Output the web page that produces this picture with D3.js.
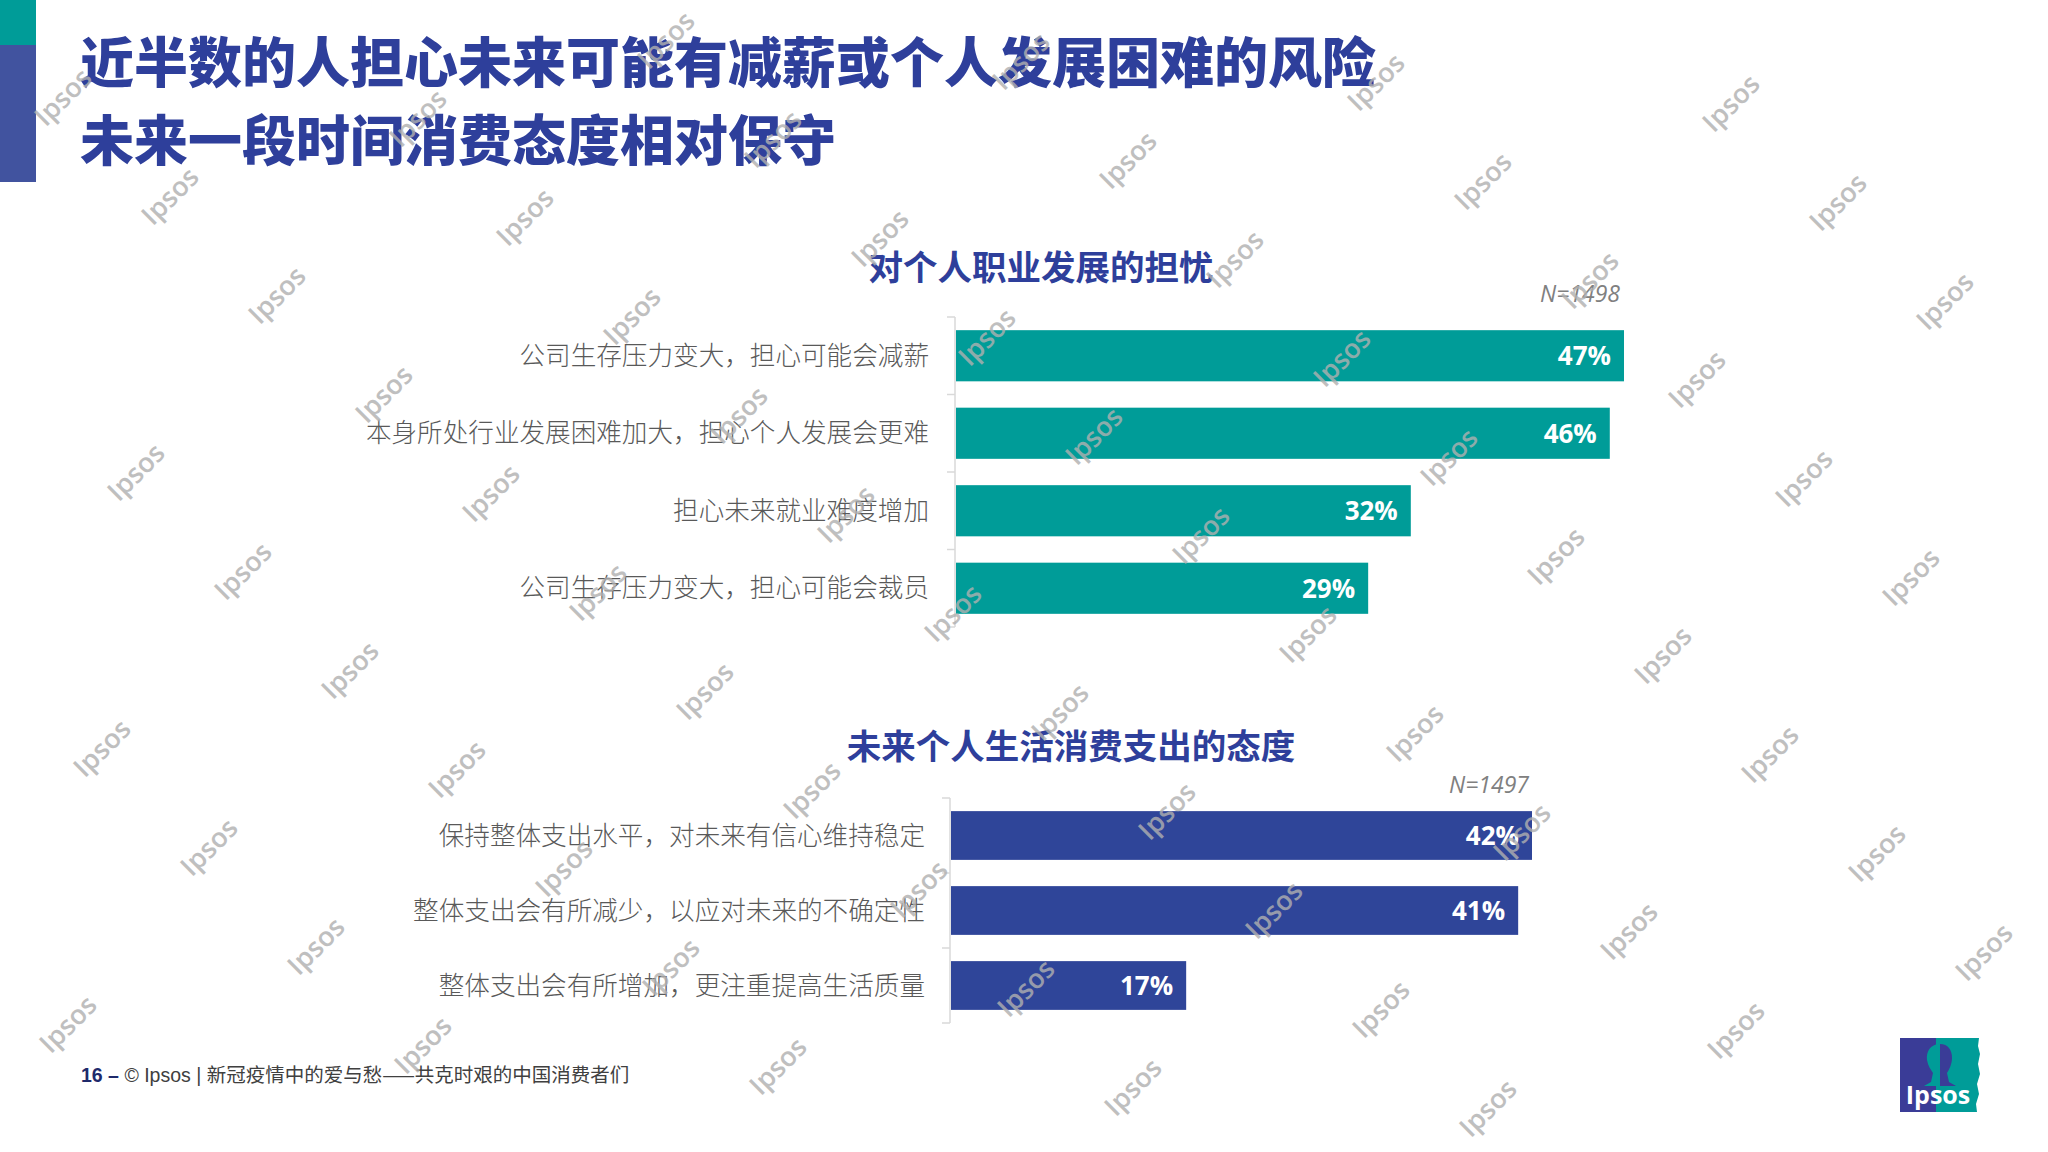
<!DOCTYPE html>
<html>
<head>
<meta charset="utf-8">
<script src="https://cdn.jsdelivr.net/npm/d3@7/dist/d3.min.js"></script>
<style>
  html, body { margin: 0; padding: 0; background: #fff; }
  svg { display: block; }
</style>
</head>
<body>
<svg id="chart" width="2048" height="1152"></svg>
<script>
// ---------- data ----------
const titleLines = ["近半数的人担心未来可能有减薪或个人发展困难的风险", "未来一段时间消费态度相对保守"];

const careerTitle = "对个人职业发展的担忧";
const careerN = "N=1498";
const careerCategories = [
  "公司生存压力变大，担心可能会减薪",
  "本身所处行业发展困难加大，担心个人发展会更难",
  "担心未来就业难度增加",
  "公司生存压力变大，担心可能会裁员"
];
const careerValues = [47, 46, 32, 29];

const spendTitle = "未来个人生活消费支出的态度";
const spendN = "N=1497";
const spendCategories = [
  "保持整体支出水平，对未来有信心维持稳定",
  "整体支出会有所减少，以应对未来的不确定性",
  "整体支出会有所增加，更注重提高生活质量"
];
const spendValues = [42, 41, 17];

const footerPage = "16 –";
const footerBrand = "© Ipsos | ";
const footerText = "新冠疫情中的爱与愁——共克时艰的中国消费者们";

// ---------- styles ----------
const TEAL = "#009C98";
const BLUE = "#2F4599";
const TITLE_BLUE = "#2E3F9B";
const CJK = "'Noto Sans CJK SC', 'Noto Sans', sans-serif";

const svg = d3.select("#chart");

// left stripe
svg.append("rect").attr("x", 0).attr("y", 0).attr("width", 36).attr("height", 45).attr("fill", TEAL);
svg.append("rect").attr("x", 0).attr("y", 45).attr("width", 36).attr("height", 137).attr("fill", "#41539F");

// watermarks (drawn under the text, over nothing else yet)
const wm = [];
for (let i = -12; i <= 16; i++) {
  for (let j = -8; j <= 12; j++) {
    const px = 170 + i * 107 + j * 248;
    const py = 196 + i * 99 - j * 78;
    if (px > 40 && px < 2010 && py > 38 && py < 1115) wm.push([px, py]);
  }
}

// main title
svg.selectAll("text.mainTitle").data(titleLines).join("text")
  .attr("class", "mainTitle")
  .attr("x", 80)
  .attr("y", (d, i) => [64, 142][i])
  .attr("dy", "0.36em")
  .attr("font-family", CJK)
  .attr("font-weight", 900)
  .attr("font-size", 54)
  .attr("fill", TITLE_BLUE)
  .text(d => d);

function drawChart(cfg) {
  const g = svg.append("g");
  const y = d3.scaleBand()
    .domain(cfg.categories)
    .range([cfg.top, cfg.bottom])
    .paddingInner(cfg.padInner)
    .paddingOuter(cfg.padInner / 2);
  const x = d3.scaleLinear().domain([0, cfg.maxV]).range([cfg.x0, cfg.x1]);

  // chart title
  g.append("text")
    .attr("x", cfg.titleX).attr("y", cfg.titleY).attr("dy", "0.36em")
    .attr("text-anchor", "middle")
    .attr("font-family", CJK).attr("font-weight", 700).attr("font-size", 34.5)
    .attr("fill", TITLE_BLUE)
    .text(cfg.title);

  // N label
  g.append("text")
    .attr("x", cfg.nX).attr("y", cfg.nY).attr("dy", "0.36em")
    .attr("text-anchor", "end")
    .attr("font-family", "'Open Sans', 'DejaVu Sans', sans-serif")
    .attr("font-style", "italic").attr("font-size", 23)
    .attr("fill", "#808080")
    .text(cfg.n);

  // axis line + ticks at band boundaries
  const step = y.step();
  const boundaries = cfg.categories.map(c => y(c) - step * cfg.padInner / 2);
  boundaries.push(cfg.bottom);
  g.append("line")
    .attr("x1", cfg.x0 - 1).attr("x2", cfg.x0 - 1)
    .attr("y1", cfg.top).attr("y2", cfg.bottom)
    .attr("stroke", "#D9D9D9").attr("stroke-width", 1.5);
  g.selectAll("line.tick").data(boundaries).join("line")
    .attr("class", "tick")
    .attr("x1", cfg.x0 - 9).attr("x2", cfg.x0 - 1)
    .attr("y1", d => d).attr("y2", d => d)
    .attr("stroke", "#D9D9D9").attr("stroke-width", 1.5);

  // bars
  g.selectAll("rect.bar").data(cfg.values).join("rect")
    .attr("class", "bar")
    .attr("x", x(0))
    .attr("y", (d, i) => y(cfg.categories[i]))
    .attr("width", d => x(d) - x(0))
    .attr("height", y.bandwidth())
    .attr("fill", cfg.color);

  // value labels
  g.selectAll("text.val").data(cfg.values).join("text")
    .attr("class", "val")
    .attr("x", d => x(d) - 13)
    .attr("y", (d, i) => y(cfg.categories[i]) + y.bandwidth() / 2)
    .attr("dy", "0.36em")
    .attr("text-anchor", "end")
    .attr("font-family", "'Open Sans', 'Noto Sans', sans-serif")
    .attr("font-weight", 700).attr("font-size", 26)
    .attr("fill", "#fff")
    .text(d => d + "%");

  // category labels
  g.selectAll("text.cat").data(cfg.categories).join("text")
    .attr("class", "cat")
    .attr("x", cfg.labelX)
    .attr("y", d => y(d) + y.bandwidth() / 2)
    .attr("dy", "0.36em")
    .attr("text-anchor", "end")
    .attr("font-family", CJK).attr("font-weight", 300).attr("font-size", 25.6)
    .attr("fill", "#595959")
    .text(d => d);
}

drawChart({
  categories: careerCategories, values: careerValues, maxV: 47,
  top: 317, bottom: 627, padInner: 0.34,
  x0: 956, x1: 1624, color: TEAL,
  title: careerTitle, titleX: 1041, titleY: 268,
  n: careerN, nX: 1620, nY: 294, labelX: 929
});

drawChart({
  categories: spendCategories, values: spendValues, maxV: 42,
  top: 798, bottom: 1023, padInner: 0.35,
  x0: 951, x1: 1532, color: BLUE,
  title: spendTitle, titleX: 1071, titleY: 747,
  n: spendN, nX: 1529, nY: 785, labelX: 925
});

// footer
const ft = svg.append("text").attr("x", 81).attr("y", 1075).attr("dy", "0.36em")
  .attr("font-size", 19.5).attr("fill", "#404040");
ft.append("tspan").attr("font-family", "'Liberation Sans', Arial, sans-serif").attr("font-weight", 700)
  .attr("fill", "#1F2A6B").text(footerPage + "  ");
ft.append("tspan").attr("font-family", "'Liberation Sans', Arial, sans-serif").attr("font-weight", 400)
  .text(footerBrand);
ft.append("tspan").attr("font-family", CJK).attr("font-weight", 400).text(footerText);

// logo
const logo = svg.append("g").attr("transform", "translate(1900,1038)");
logo.append("rect").attr("x", 0).attr("y", 0).attr("width", 40).attr("height", 74).attr("fill", "#3A3C97");
logo.append("path")
  .attr("d", "M36,0 L79,0 L78,8 L80,16 L78,26 L80,36 L77,46 L79,56 L76,66 L77,74 L36,74 Z")
  .attr("fill", TEAL);
logo.append("path")
  .attr("d", "M40,6 C30,6 26,14 27,22 C28,28 31,32 33,35 L31,44 L24,48 L40,48 Z")
  .attr("fill", TEAL);
logo.append("path")
  .attr("d", "M40,6 C48,6 52,12 52,20 C52,26 49,32 47,35 L49,44 L56,48 L40,48 Z")
  .attr("fill", "#3A3C97");
logo.append("text").attr("x", 38).attr("y", 66).attr("text-anchor", "middle")
  .attr("font-family", "'Open Sans', sans-serif").attr("font-weight", 700).attr("font-size", 25)
  .attr("fill", "#fff").text("Ipsos");

// watermark layer on top (semi-transparent, like the reference)
svg.append("g").attr("pointer-events", "none")
  .selectAll("text").data(wm).join("text")
  .attr("transform", d => `translate(${d[0]},${d[1]}) rotate(-45)`)
  .attr("text-anchor", "middle").attr("dy", "0.35em")
  .attr("font-family", "'Open Sans', sans-serif").attr("font-weight", 600).attr("font-size", 27)
  .attr("fill", "#B0B0B0").attr("opacity", 0.8)
  .text("Ipsos");
</script>
</body>
</html>
